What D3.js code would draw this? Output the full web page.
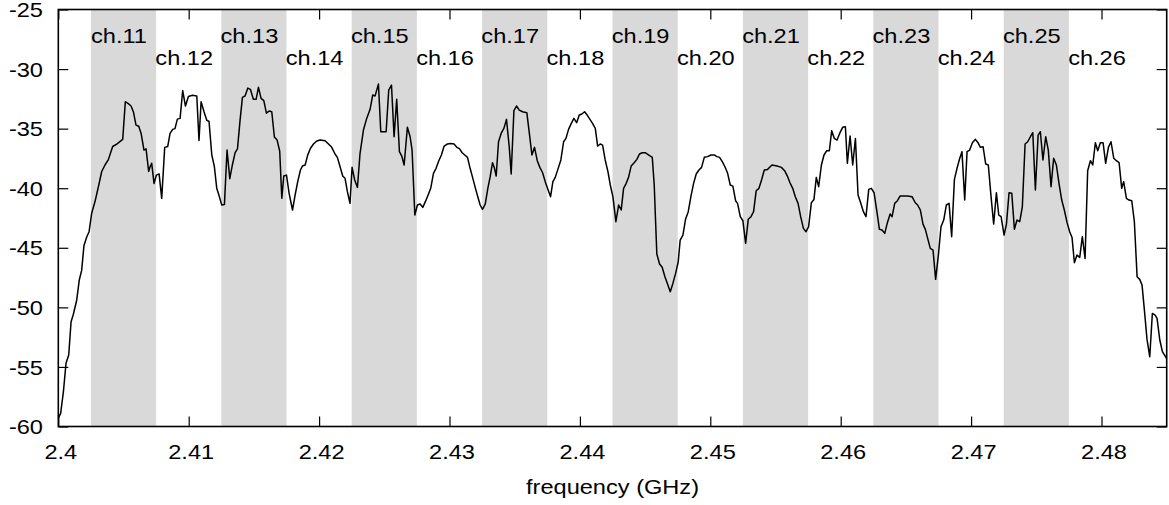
<!DOCTYPE html>
<html>
<head>
<meta charset="utf-8">
<script src="https://cdn.jsdelivr.net/npm/d3@7"></script>
<style>
  html, body { margin: 0; padding: 0; background: #fff; }
  svg { display: block; }
</style>
</head>
<body>
<div id="chart"></div>
<script>
// ---- data --------------------------------------------------------------
const channelNames   = ["ch.11","ch.12","ch.13","ch.14","ch.15","ch.16","ch.17","ch.18",
                        "ch.19","ch.20","ch.21","ch.22","ch.23","ch.24","ch.25","ch.26"];
const channelCenters = [2.405, 2.410, 2.415, 2.420, 2.425, 2.430, 2.435, 2.440,
                        2.445, 2.450, 2.455, 2.460, 2.465, 2.470, 2.475, 2.480];
const xTicks = [2.40, 2.41, 2.42, 2.43, 2.44, 2.45, 2.46, 2.47, 2.48];
const xTickLabels = ["2.4","2.41","2.42","2.43","2.44","2.45","2.46","2.47","2.48"];
const yTicks = [-60, -55, -50, -45, -40, -35, -30, -25];

const freqGHz = [
  2.40000,2.40018,2.40039,2.40059,2.40080,2.40098,2.40115,2.40141,2.40161,2.40179,
  2.40197,2.40218,2.40236,2.40256,2.40282,2.40307,2.40333,2.40358,2.40384,2.40417,
  2.40448,2.40494,2.40514,2.40537,2.40558,2.40576,2.40596,2.40617,2.40635,2.40657,
  2.40673,2.40693,2.40704,2.40716,2.40734,2.40752,2.40773,2.40793,2.40816,2.40839,
  2.40857,2.40877,2.40895,2.40913,2.40934,2.40954,2.40975,2.40998,
  2.41028,2.41062,2.41079,2.41095,2.41118,2.41138,2.41156,2.41177,2.41197,2.41215,
  2.41235,2.41253,2.41274,2.41294,2.41315,2.41335,2.41356,2.41374,2.41394,2.41412,
  2.41432,2.41453,2.41473,2.41496,2.41517,2.41535,2.41555,2.41576,2.41596,2.41617,
  2.41637,2.41657,2.41678,2.41698,2.41714,2.41729,2.41750,2.41770,2.41796,2.41816,
  2.41836,2.41857,2.41872,2.41893,2.41913,2.41934,2.41957,2.41982,2.42008,2.42046,
  2.42072,2.42097,
  2.42122,2.42140,2.42161,2.42181,2.42199,2.42217,2.42237,2.42253,2.42273,2.42294,
  2.42314,2.42340,2.42365,2.42391,2.42411,2.42429,2.42455,2.42473,2.42514,2.42534,
  2.42555,2.42575,2.42595,2.42616,2.42634,2.42652,2.42677,2.42698,2.42713,2.42734,
  2.42754,2.42775,2.42795,2.42815,2.42836,2.42856,2.42877,2.42897,2.42918,2.42938,
  2.42959,2.42984,2.43010,2.43035,2.43056,2.43076,2.43097,2.43117,2.43138,2.43158,
  2.43179,2.43199,
  2.43217,2.43235,2.43253,2.43274,2.43294,2.43312,2.43330,2.43345,2.43358,2.43376,
  2.43396,2.43417,2.43437,2.43458,2.43473,2.43494,2.43514,2.43535,2.43560,2.43593,
  2.43614,2.43632,2.43652,2.43673,2.43693,2.43714,2.43734,2.43755,2.43775,2.43793,
  2.43811,2.43831,2.43854,2.43875,2.43893,2.43913,2.43934,2.43954,2.43975,2.43995,
  2.44015,2.44036,2.44056,2.44077,2.44097,2.44118,2.44136,2.44156,2.44174,2.44194,
  2.44215,2.44233,2.44253,2.44276,2.44297,2.44317,
  2.44335,2.44355,2.44373,2.44393,2.44416,2.44437,2.44457,2.44478,2.44501,2.44526,
  2.44555,2.44570,2.44580,2.44590,2.44611,2.44631,2.44652,2.44672,2.44693,2.44713,
  2.44734,2.44754,2.44769,2.44790,2.44810,2.44831,2.44851,2.44872,2.44892,2.44913,
  2.44933,2.44954,2.44979,2.45005,2.45030,2.45051,2.45071,2.45092,2.45112,2.45133,
  2.45153,2.45173,2.45194,2.45209,2.45230,2.45250,2.45271,2.45291,2.45312,2.45332,
  2.45352,2.45373,2.45393,2.45414,2.45439,
  2.45473,2.45512,2.45545,2.45570,2.45591,2.45611,2.45632,2.45652,2.45673,2.45693,
  2.45714,2.45734,2.45754,2.45775,2.45795,2.45813,2.45831,2.45852,2.45872,2.45893,
  2.45913,2.45931,2.45951,2.45972,2.45992,2.46015,2.46036,2.46051,2.46072,2.46092,
  2.46113,2.46133,2.46153,2.46174,2.46194,2.46215,2.46235,2.46256,2.46276,2.46297,
  2.46317,2.46338,2.46358,2.46379,2.46394,2.46414,2.46435,2.46455,2.46481,2.46512,
  2.46547,
  2.46572,2.46590,2.46611,2.46631,2.46649,2.46667,2.46687,2.46708,2.46728,2.46749,
  2.46769,2.46790,2.46810,2.46831,2.46851,2.46872,2.46892,2.46913,2.46930,2.46951,
  2.46969,2.46989,2.47010,2.47033,2.47053,2.47071,2.47092,2.47112,2.47132,2.47153,
  2.47173,2.47194,2.47212,2.47230,2.47253,2.47271,2.47291,2.47312,2.47332,2.47352,
  2.47373,2.47393,2.47414,2.47434,2.47455,2.47473,2.47493,2.47514,
  2.47531,2.47551,2.47572,2.47592,2.47613,2.47633,2.47654,2.47674,2.47695,2.47715,
  2.47736,2.47756,2.47774,2.47792,2.47812,2.47833,2.47853,2.47874,2.47894,2.47915,
  2.47933,2.47953,2.47971,2.47991,2.48012,2.48032,2.48053,2.48073,2.48094,2.48114,
  2.48135,2.48155,2.48170,2.48191,2.48211,2.48232,2.48252,2.48273,2.48293,2.48311,
  2.48329,2.48349,2.48370,2.48390,2.48411,2.48426,2.48447,2.48467,2.48500
];

const powerDbm = [
  -59.3,-58.9,-57.1,-54.7,-54.0,-51.2,-50.6,-49.4,-47.7,-46.9,
  -44.8,-44.1,-43.65,-42.1,-41.1,-39.9,-38.6,-38.05,-37.6,-36.5,
  -36.3,-35.9,-32.74,-32.9,-33.1,-33.6,-34.7,-34.8,-35.4,-36.8,
  -36.7,-38.6,-38.2,-37.9,-39.6,-38.9,-38.8,-40.85,-36.57,-36.5,
  -35.4,-35.06,-35.0,-34.2,-34.14,-31.8,-33.1,-32.3,
  -32.2,-32.26,-36.0,-32.74,-33.6,-34.28,-34.4,-37.2,-38.2,-40.0,
  -40.7,-41.4,-41.36,-36.8,-39.2,-38.05,-37.02,-36.7,-34.28,-32.37,
  -32.26,-31.6,-31.7,-32.54,-32.54,-31.53,-32.46,-32.65,-33.7,-33.52,
  -33.58,-35.7,-35.96,-36.9,-40.85,-38.98,-38.9,-40.43,-41.83,-40.57,
  -39.45,-38.47,-38.14,-38.05,-37.2,-36.65,-36.29,-36.04,-35.96,-36.01,
  -36.29,-36.57,
  -37.13,-37.41,-38.2,-38.98,-39.17,-40.29,-41.27,-38.25,-39.31,-39.93,
  -37.07,-35.12,-34.14,-33.38,-32.18,-32.26,-31.26,-35.26,-35.26,-31.76,
  -31.34,-35.68,-32.54,-36.93,-37.3,-38.05,-34.89,-35.68,-36.8,-42.25,
  -41.41,-41.33,-41.61,-41.13,-40.57,-40.01,-38.75,-38.33,-37.69,-37.21,
  -36.46,-36.29,-36.24,-36.29,-36.57,-36.68,-37.02,-37.21,-37.41,-38.33,
  -39.17,-40.01,
  -40.71,-41.41,-41.78,-41.33,-40.01,-39.03,-37.86,-38.33,-38.98,-36.1,
  -35.4,-34.98,-34.22,-36.52,-38.81,-33.49,-33.1,-33.44,-33.58,-33.66,
  -35.54,-37.21,-36.57,-37.69,-38.25,-38.7,-39.45,-40.1,-40.71,-39.45,
  -39.09,-38.42,-37.63,-36.1,-35.82,-35.06,-34.56,-34.14,-34.5,-33.86,
  -33.77,-33.58,-33.86,-34.22,-34.56,-34.98,-36.46,-36.29,-36.38,-37.63,
  -38.61,-39.73,-40.71,-42.81,-41.41,-41.83,
  -40.01,-39.59,-39.09,-38.14,-37.86,-37.58,-37.13,-37.02,-37.02,-37.21,
  -37.41,-39.73,-42.67,-45.52,-46.36,-46.64,-47.43,-48.04,-48.69,-47.99,
  -47.15,-46.17,-44.35,-43.93,-42.61,-41.97,-40.71,-39.59,-38.81,-38.47,
  -38.25,-37.41,-37.35,-37.21,-37.21,-37.35,-37.41,-37.77,-38.2,-38.75,
  -39.73,-39.82,-41.05,-41.27,-42.39,-42.73,-44.63,-42.61,-42.39,-41.97,
  -40.21,-40.01,-39.31,-38.47,-38.42,
  -38.05,-38.14,-38.25,-38.53,-38.98,-39.54,-40.01,-40.71,-41.27,-42.39,
  -43.37,-43.65,-43.23,-41.22,-40.94,-39.09,-39.87,-38.05,-37.21,-36.85,
  -36.85,-35.17,-35.82,-35.96,-35.4,-34.89,-34.84,-37.91,-35.62,-38.05,
  -35.82,-40.57,-41.22,-41.97,-42.39,-40.1,-40.01,-40.38,-41.83,-43.45,
  -43.51,-43.79,-42.89,-42.17,-42.39,-41.27,-41.05,-40.66,-40.66,-40.66,
  -40.71,
  -41.22,-41.41,-41.83,-43.01,-43.45,-44.21,-45.05,-45.19,-47.65,-45.61,
  -43.23,-42.67,-41.41,-41.27,-44.07,-39.26,-38.33,-37.49,-36.93,-40.99,
  -36.93,-36.8,-36.18,-35.9,-36.18,-36.57,-36.52,-37.97,-38.05,-40.71,
  -43.01,-40.38,-42.25,-42.39,-43.93,-43.01,-40.38,-40.43,-43.45,-42.67,
  -42.81,-41.55,-36.29,-36.1,-35.68,-35.34,-40.15,-35.54,
  -35.26,-37.63,-35.68,-36.8,-39.87,-37.49,-38.05,-39.59,-40.99,-41.83,
  -42.89,-43.65,-44.13,-46.25,-45.61,-45.81,-44.07,-45.89,-38.53,-37.69,
  -38.05,-36.18,-36.85,-36.18,-36.18,-37.91,-36.57,-36.1,-37.49,-37.69,
  -37.86,-40.01,-39.45,-40.85,-40.99,-41.05,-42.81,-47.43,-47.65,-48.13,
  -50.23,-52.69,-54.14,-50.51,-50.65,-50.93,-52.74,-53.72,-54.3
];

// ---- layout -------------------------------------------------------------
const W = 1169, H = 505;
const PLOT = { left: 58.3, right: 1166.7, top: 9.5, bottom: 426.5 };
const BAND = "#d9d9d9";
const FONT = "'Liberation Sans', Arial, Helvetica, sans-serif";
const FS = 20, SX = 1.18;   // text in the reference is slightly wide

const svg = d3.select("#chart").append("svg")
  .attr("width", W).attr("height", H)
  .style("font-family", FONT);

const x = d3.scaleLinear().domain([2.4, 2.485]).range([PLOT.left, PLOT.right]);
const y = d3.scaleLinear().domain([-60, -25]).range([PLOT.bottom, PLOT.top]);

// shaded odd channels
const chans = channelNames.map((name, i) => ({ name, c: channelCenters[i], odd: i % 2 === 0 }));

svg.append("g").selectAll("rect")
  .data(chans.filter(d => d.odd)).enter()
  .append("rect")
  .attr("x", d => x(d.c - 0.0025))
  .attr("width", d => x(d.c + 0.0025) - x(d.c - 0.0025))
  .attr("y", PLOT.top)
  .attr("height", PLOT.bottom - PLOT.top)
  .attr("fill", BAND);

// channel labels (odd high, even low)
svg.append("g").selectAll("text")
  .data(chans).enter()
  .append("text")
  .attr("transform", d => `translate(${x(d.c) - 4.5},${d.odd ? 42.5 : 65}) scale(${SX},1)`)
  .attr("text-anchor", "middle")
  .attr("font-size", FS)
  .attr("fill", "#000")
  .text(d => d.name);

// spectrum trace
const pts = freqGHz.map((f, i) => [f, powerDbm[i]]);
svg.append("path")
  .datum(pts)
  .attr("d", d3.line().x(d => x(d[0])).y(d => y(d[1])))
  .attr("fill", "none")
  .attr("stroke", "#000")
  .attr("stroke-width", 1.5)
  .attr("stroke-linejoin", "round");

// axes: gnuplot style, ticks inward and mirrored
function styleAxis(g) {
  g.select(".domain").remove();
  g.selectAll(".tick line").attr("stroke", "#000").attr("stroke-width", 1.2);
}

const gx = svg.append("g")
  .attr("transform", `translate(0,${PLOT.bottom})`)
  .call(d3.axisBottom(x).tickValues(xTicks).tickSize(-10).tickSizeOuter(0)
    .tickFormat((d, i) => xTickLabels[i]))
  .call(styleAxis);
gx.selectAll(".tick text")
  .attr("y", 33).attr("dy", 0)
  .attr("transform", `translate(2,0) scale(${SX},1)`)
  .attr("font-size", FS).attr("font-family", FONT).attr("fill", "#000");

svg.append("g")
  .attr("transform", `translate(0,${PLOT.top})`)
  .call(d3.axisTop(x).tickValues(xTicks).tickSize(-10).tickSizeOuter(0).tickFormat(""))
  .call(styleAxis);

const gy = svg.append("g")
  .attr("transform", `translate(${PLOT.left},0)`)
  .call(d3.axisLeft(y).tickValues(yTicks).tickSize(-10).tickSizeOuter(0).tickPadding(13)
    .tickFormat(d => String(d)))
  .call(styleAxis);
gy.selectAll(".tick text")
  .attr("dy", "0.36em")
  .attr("transform", `scale(${SX},1)`)
  .attr("font-size", FS).attr("font-family", FONT).attr("fill", "#000");

svg.append("g")
  .attr("transform", `translate(${PLOT.right},0)`)
  .call(d3.axisRight(y).tickValues(yTicks).tickSize(-10).tickSizeOuter(0).tickFormat(""))
  .call(styleAxis);

// frame
svg.append("rect")
  .attr("x", PLOT.left).attr("y", PLOT.top)
  .attr("width", PLOT.right - PLOT.left)
  .attr("height", PLOT.bottom - PLOT.top)
  .attr("fill", "none")
  .attr("stroke", "#000")
  .attr("stroke-width", 1.6);

// x label
svg.append("text")
  .attr("transform", `translate(${(PLOT.left + PLOT.right) / 2},494) scale(${SX},1)`)
  .attr("text-anchor", "middle")
  .attr("font-size", FS)
  .attr("fill", "#000")
  .text("frequency (GHz)");
</script>
</body>
</html>
